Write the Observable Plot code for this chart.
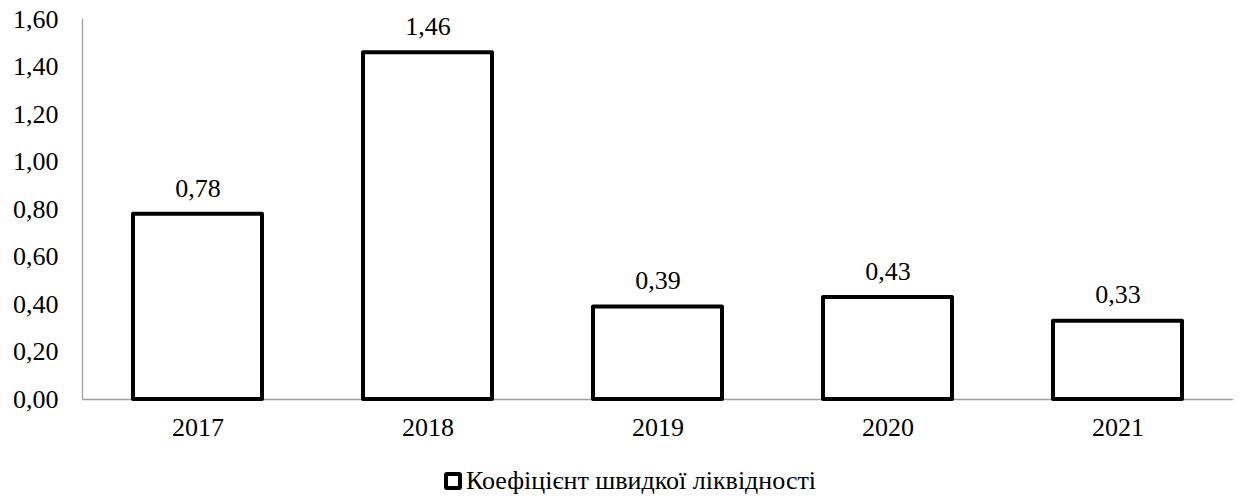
<!DOCTYPE html>
<html><head><meta charset="utf-8">
<script src="https://cdn.jsdelivr.net/npm/d3@7"></script>
<script src="https://cdn.jsdelivr.net/npm/@observablehq/plot@0.6"></script>
</head><body style="margin:0;background:#fff">
<div id="chart"></div>
<div id="legend" style="display:flex;justify-content:center;align-items:center;font-family:'Liberation Serif';font-size:26px;color:#000;height:44px;margin-top:4px;margin-left:20px"><span style="box-sizing:border-box;width:18px;height:18px;border:4px solid #000;border-radius:3px;margin-right:4px;background:#fff"></span><span id="lt" style="font-family:'Liberation Serif'"></span></div>
<script>
const years = ["2017","2018","2019","2020","2021"];
const values = [0.78, 1.46, 0.39, 0.43, 0.33];
const yTicks = [0,0.2,0.4,0.6,0.8,1.0,1.2,1.4,1.6];
const seriesName = "Коефіцієнт швидкої ліквідності";

const data = years.map((y,i)=>({year:y, value:values[i]}));
const fmt = v => v.toFixed(2).replace(".", ",");
const FF = "Liberation Serif";

const chart = Plot.plot({
  width:1240, height:455,
  marginTop:19, marginBottom:56, marginLeft:82, marginRight:7,
  style:{fontFamily:FF, fontSize:"26px", color:"#000", background:"#fff"},
  x:{domain:years, paddingInner:0.44, paddingOuter:0.22, label:null},
  y:{domain:[0,1.6], label:null},
  marks:[
    Plot.axisY({ticks:yTicks, tickFormat:fmt, tickSize:0, tickPadding:24, fontSize:26, fontFamily:FF, label:null}),
    Plot.axisX({tickSize:0, tickPadding:18, fontSize:26, fontFamily:FF, label:null}),
    Plot.frame({anchor:"left", stroke:"#a0a0a0", strokeWidth:1.3}),
    Plot.ruleY([0], {stroke:"#a0a0a0", strokeWidth:1.3}),
    Plot.barY(data, {x:"year", y:"value", fill:"#fff", stroke:"#000", strokeWidth:4, strokeLinejoin:"round"}),
    Plot.text(data, {x:"year", y:"value", text:d=>fmt(d.value), dy:-26, fontSize:26, fontFamily:FF, fill:"#000"})
  ]
});
document.getElementById("chart").appendChild(chart);
document.getElementById("lt").textContent = seriesName;
</script>
</body></html>
